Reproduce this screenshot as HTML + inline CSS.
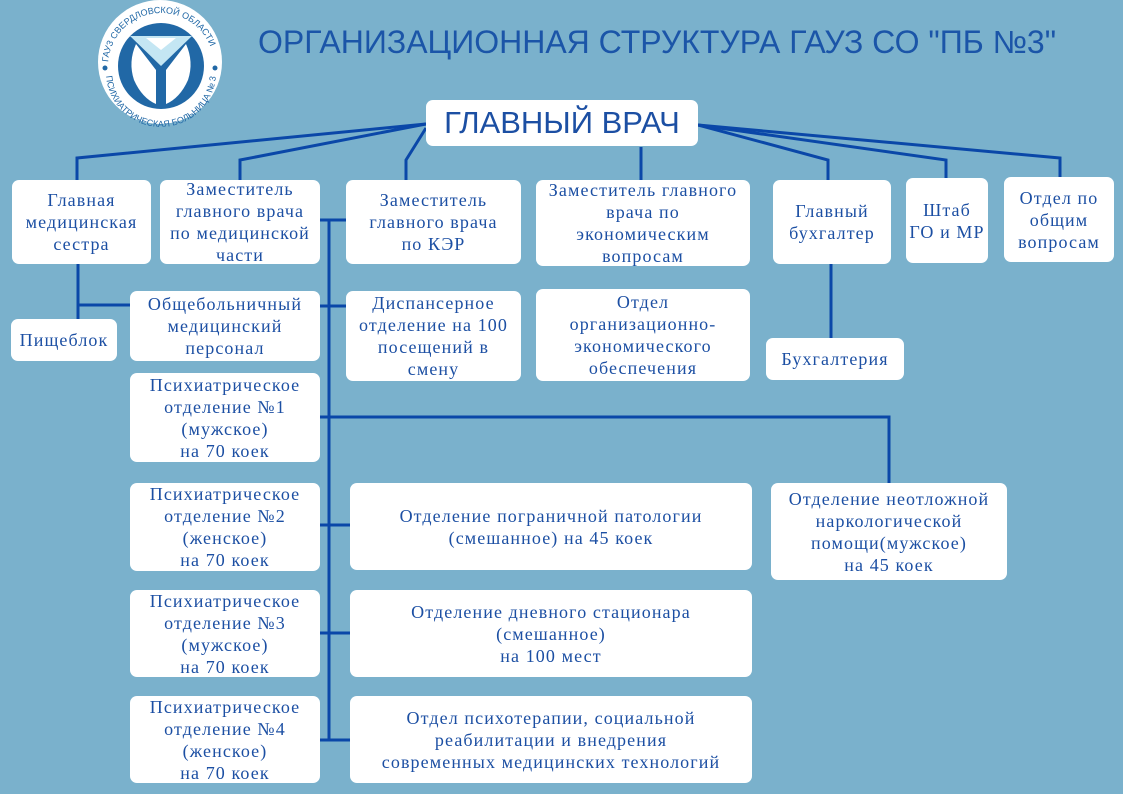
<!DOCTYPE html>
<html><head><meta charset="utf-8">
<style>
body{margin:0;width:1123px;height:794px;background:#7ab1cc;position:relative;overflow:hidden;font-family:"Liberation Serif","DejaVu Serif",serif;}
.b{position:absolute;background:#fff;border-radius:7px;color:#1c4fa3;font-size:18px;letter-spacing:1.1px;line-height:22px;text-align:center;display:flex;align-items:center;justify-content:center;box-sizing:border-box;padding:0;white-space:nowrap;}
.t{position:absolute;left:258px;top:24px;font-family:"Liberation Sans",sans-serif;font-size:32px;color:#1b55a8;white-space:nowrap;}
svg{position:absolute;left:0;top:0;}
</style></head><body>
<svg width="1123" height="794">
<g stroke="#0a47a8" stroke-width="3" fill="none">
<polyline points="426,124 77,158 77,180"/>
<polyline points="426,124 240,160 240,180"/>
<polyline points="426,128 406,160 406,180"/>
<line x1="641" y1="147" x2="641" y2="180"/>
<polyline points="698,125 828,160 828,180"/>
<polyline points="698,125 946,160 946,178"/>
<polyline points="698,125 1060,158 1060,178"/>
<line x1="831" y1="264" x2="831" y2="338"/>
<line x1="78" y1="264" x2="78" y2="319"/>
<line x1="78" y1="305" x2="130" y2="305"/>
<line x1="320" y1="220" x2="346" y2="220"/>
<line x1="329" y1="220" x2="329" y2="741"/>
<line x1="320" y1="306" x2="346" y2="306"/>
<polyline points="320,417 889,417 889,483"/>
<line x1="320" y1="525" x2="350" y2="525"/>
<line x1="320" y1="633" x2="350" y2="633"/>
<line x1="320" y1="740" x2="350" y2="740"/>
</g>
<circle cx="160" cy="62" r="62" fill="#fff"/>
<circle cx="161" cy="66" r="43" fill="#2168a6"/>
<path d="M136,44 Q128,62 134,80 Q142,98 156,104 L156,70 Z" fill="#fff"/>
<path d="M186,44 Q194,62 188,80 Q180,98 166,104 L166,70 Z" fill="#fff"/>
<path d="M130,36 L192,36 L161,66 Z" fill="#c4e6f3"/>
<path d="M146,38 L176,38 L161,50 Z" fill="#fff"/>
<circle cx="105" cy="68" r="2.5" fill="#2168a6"/>
<circle cx="215" cy="68" r="2.5" fill="#2168a6"/>
<path id="arcTop" d="M108,66 A53,53 0 0 1 214,66" fill="none"/>
<path id="arcBot" d="M106,72 A54,54 0 0 0 216,72" fill="none"/>
<text font-family="Liberation Sans,sans-serif" font-size="9" fill="#2168a6"><textPath href="#arcTop" startOffset="4">ГАУЗ СВЕРДЛОВСКОЙ ОБЛАСТИ</textPath></text>
<text font-family="Liberation Sans,sans-serif" font-size="9" fill="#2168a6"><textPath href="#arcBot" startOffset="4">ПСИХИАТРИЧЕСКАЯ БОЛЬНИЦА № 3</textPath></text>
</svg>
<div class="t">ОРГАНИЗАЦИОННАЯ СТРУКТУРА ГАУЗ СО "ПБ №3"</div>
<div class="b" style="left:426px;top:100px;width:272px;height:46px;font-family:'Liberation Sans',sans-serif;font-size:31px;line-height:34px;letter-spacing:0;">ГЛАВНЫЙ ВРАЧ</div>
<div class="b" style="left:12px;top:180px;width:139px;height:84px;">Главная<br>медицинская<br>сестра</div>
<div class="b" style="left:160px;top:180px;width:160px;height:84px;">Заместитель<br>главного врача<br>по медицинской<br>части</div>
<div class="b" style="left:346px;top:180px;width:175px;height:84px;">Заместитель<br>главного врача<br>по КЭР</div>
<div class="b" style="left:536px;top:180px;width:214px;height:86px;">Заместитель главного<br>врача по<br>экономическим<br>вопросам</div>
<div class="b" style="left:773px;top:180px;width:118px;height:84px;">Главный<br>бухгалтер</div>
<div class="b" style="left:906px;top:178px;width:82px;height:85px;">Штаб<br>ГО и МР</div>
<div class="b" style="left:1004px;top:177px;width:110px;height:85px;">Отдел по<br>общим<br>вопросам</div>
<div class="b" style="left:11px;top:319px;width:106px;height:42px;">Пищеблок</div>
<div class="b" style="left:130px;top:291px;width:190px;height:70px;">Общебольничный<br>медицинский<br>персонал</div>
<div class="b" style="left:346px;top:291px;width:175px;height:90px;">Диспансерное<br>отделение на 100<br>посещений в<br>смену</div>
<div class="b" style="left:536px;top:289px;width:214px;height:92px;">Отдел<br>организационно-<br>экономического<br>обеспечения</div>
<div class="b" style="left:766px;top:338px;width:138px;height:42px;">Бухгалтерия</div>
<div class="b" style="left:130px;top:373px;width:190px;height:89px;">Психиатрическое<br>отделение №1<br>(мужское)<br>на 70 коек</div>
<div class="b" style="left:130px;top:483px;width:190px;height:88px;">Психиатрическое<br>отделение №2<br>(женское)<br>на 70 коек</div>
<div class="b" style="left:130px;top:590px;width:190px;height:87px;">Психиатрическое<br>отделение №3<br>(мужское)<br>на 70 коек</div>
<div class="b" style="left:130px;top:696px;width:190px;height:87px;">Психиатрическое<br>отделение №4<br>(женское)<br>на 70 коек</div>
<div class="b" style="left:350px;top:483px;width:402px;height:87px;">Отделение пограничной патологии<br>(смешанное) на 45 коек</div>
<div class="b" style="left:350px;top:590px;width:402px;height:87px;">Отделение дневного стационара<br>(смешанное)<br>на 100 мест</div>
<div class="b" style="left:350px;top:696px;width:402px;height:87px;">Отдел психотерапии, социальной<br>реабилитации и внедрения<br>современных медицинских технологий</div>
<div class="b" style="left:771px;top:483px;width:236px;height:97px;">Отделение неотложной<br>наркологической<br>помощи(мужское)<br>на 45 коек</div>
</body></html>
